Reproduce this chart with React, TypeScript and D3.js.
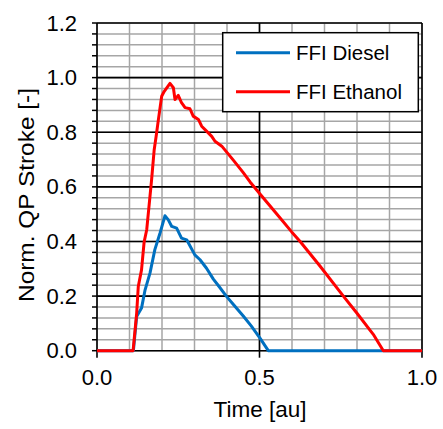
import React from "react";
import * as d3 from "d3";

const dieselT = [0, 0.112, 0.122, 0.137, 0.148, 0.163, 0.178, 0.194, 0.209, 0.219, 0.23, 0.245, 0.26, 0.276, 0.301, 0.317, 0.337, 0.358, 0.375, 0.399, 0.419, 0.45, 0.475, 0.502, 0.527, 1.0];
const dieselV = [0, 0, 0.125, 0.156, 0.223, 0.284, 0.37, 0.431, 0.494, 0.48, 0.455, 0.449, 0.412, 0.406, 0.351, 0.333, 0.302, 0.262, 0.236, 0.198, 0.17, 0.127, 0.09, 0.045, 0, 0];

const ethanolT = [0, 0.111, 0.122, 0.127, 0.137, 0.145, 0.153, 0.168, 0.176, 0.182, 0.189, 0.199, 0.207, 0.2246, 0.235, 0.24, 0.25, 0.26, 0.271, 0.286, 0.296, 0.312, 0.322, 0.337, 0.353, 0.363, 0.384, 0.42, 0.45, 0.471, 0.5015, 0.55, 0.599, 0.625, 0.686, 0.758, 0.8, 0.85, 0.881, 1.0];
const ethanolV = [0, 0, 0.137, 0.235, 0.296, 0.398, 0.443, 0.626, 0.736, 0.785, 0.847, 0.932, 0.95, 0.979, 0.963, 0.92, 0.935, 0.908, 0.89, 0.886, 0.859, 0.847, 0.822, 0.804, 0.785, 0.767, 0.749, 0.697, 0.652, 0.618, 0.574, 0.505, 0.435, 0.4, 0.31, 0.2, 0.137, 0.06, 0, 0];

const yTicks = [0, 0.2, 0.4, 0.6, 0.8, 1.0, 1.2];
const xTicks = [0, 0.5, 1.0];
const seriesNames = ["FFI Diesel", "FFI Ethanol"];
const seriesColors = ["#0070C0", "#FF0000"];

export default function App() {
  const left = 97, right = 422, top = 23, bottom = 350.7;
  const x = d3.scaleLinear().domain([0, 1]).range([left, right]);
  const y = d3.scaleLinear().domain([0, 1.2]).range([bottom, top]);
  const font = "'Liberation Sans', Arial, sans-serif";

  const minorY = d3.range(0, 31).map((i) => i * 0.04).filter((v) => v <= 1.2001);
  const minorX = d3.range(0, 11).map((i) => i * 0.1);

  const line = d3
    .line<[number, number]>()
    .x((d) => x(d[0]))
    .y((d) => y(d[1]));
  const diesel = dieselT.map((t, i) => [t, dieselV[i]] as [number, number]);
  const ethanol = ethanolT.map((t, i) => [t, ethanolV[i]] as [number, number]);

  return (
    <svg width={443} height={429} style={{ position: "absolute", left: 0, top: 0, background: "#fff" }}>
      <rect x={0} y={0} width={443} height={429} fill="#fff" />
      {minorX.map((v, i) => (
        <line key={"gx" + i} x1={x(v)} x2={x(v)} y1={top} y2={bottom} stroke="#a6a6a6" strokeWidth={1.5} />
      ))}
      {minorY.map((v, i) => (
        <line key={"gy" + i} x1={left} x2={right} y1={y(v)} y2={y(v)} stroke="#a6a6a6" strokeWidth={1.5} />
      ))}
      {yTicks.map((v, i) => (
        <line key={"my" + i} x1={left} x2={right} y1={y(v)} y2={y(v)} stroke="#000" strokeWidth={1.6} />
      ))}
      {xTicks.map((v, i) => (
        <line key={"mx" + i} x1={x(v)} x2={x(v)} y1={top} y2={bottom} stroke="#000" strokeWidth={1.6} />
      ))}
      {minorY.map((v, i) => (
        <line key={"ty" + i} x1={left - 5} x2={left} y1={y(v)} y2={y(v)} stroke="#000" strokeWidth={1.5} />
      ))}
      {xTicks.map((v, i) => (
        <line key={"tx" + i} x1={x(v)} x2={x(v)} y1={bottom} y2={bottom + 7} stroke="#000" strokeWidth={1.6} />
      ))}
      <path d={line(diesel) || ""} fill="none" stroke={seriesColors[0]} strokeWidth={3} strokeLinejoin="round" />
      <path d={line(ethanol) || ""} fill="none" stroke={seriesColors[1]} strokeWidth={3} strokeLinejoin="round" />
      {yTicks.map((v, i) => (
        <text key={"yl" + i} x={77} y={y(v) + 7.5} textAnchor="end" fontFamily={font} fontSize={22} fill="#000">
          {v.toFixed(1)}
        </text>
      ))}
      {xTicks.map((v, i) => (
        <text key={"xl" + i} x={x(v)} y={385} textAnchor="middle" fontFamily={font} fontSize={22} fill="#000">
          {v.toFixed(1)}
        </text>
      ))}
      <text x={260} y={417} textAnchor="middle" fontFamily={font} fontSize={22.5} fill="#000">
        Time [au]
      </text>
      <text
        transform={`translate(34,195) rotate(-90)`}
        textAnchor="middle"
        fontFamily={font}
        fontSize={22}
        textLength={214}
        lengthAdjust="spacingAndGlyphs"
        fill="#000"
      >
        Norm. QP Stroke [-]
      </text>
      <rect x={222.7} y={32.7} width={195.6} height={79} fill="#fff" stroke="#000" strokeWidth={1.5} />
      {seriesNames.map((name, i) => (
        <g key={"lg" + i}>
          <line x1={236} x2={290} y1={52.7 + i * 39} y2={52.7 + i * 39} stroke={seriesColors[i]} strokeWidth={3} />
          <text x={296} y={60 + i * 39} fontFamily={font} fontSize={20.5} fill="#000">
            {name}
          </text>
        </g>
      ))}
    </svg>
  );
}
